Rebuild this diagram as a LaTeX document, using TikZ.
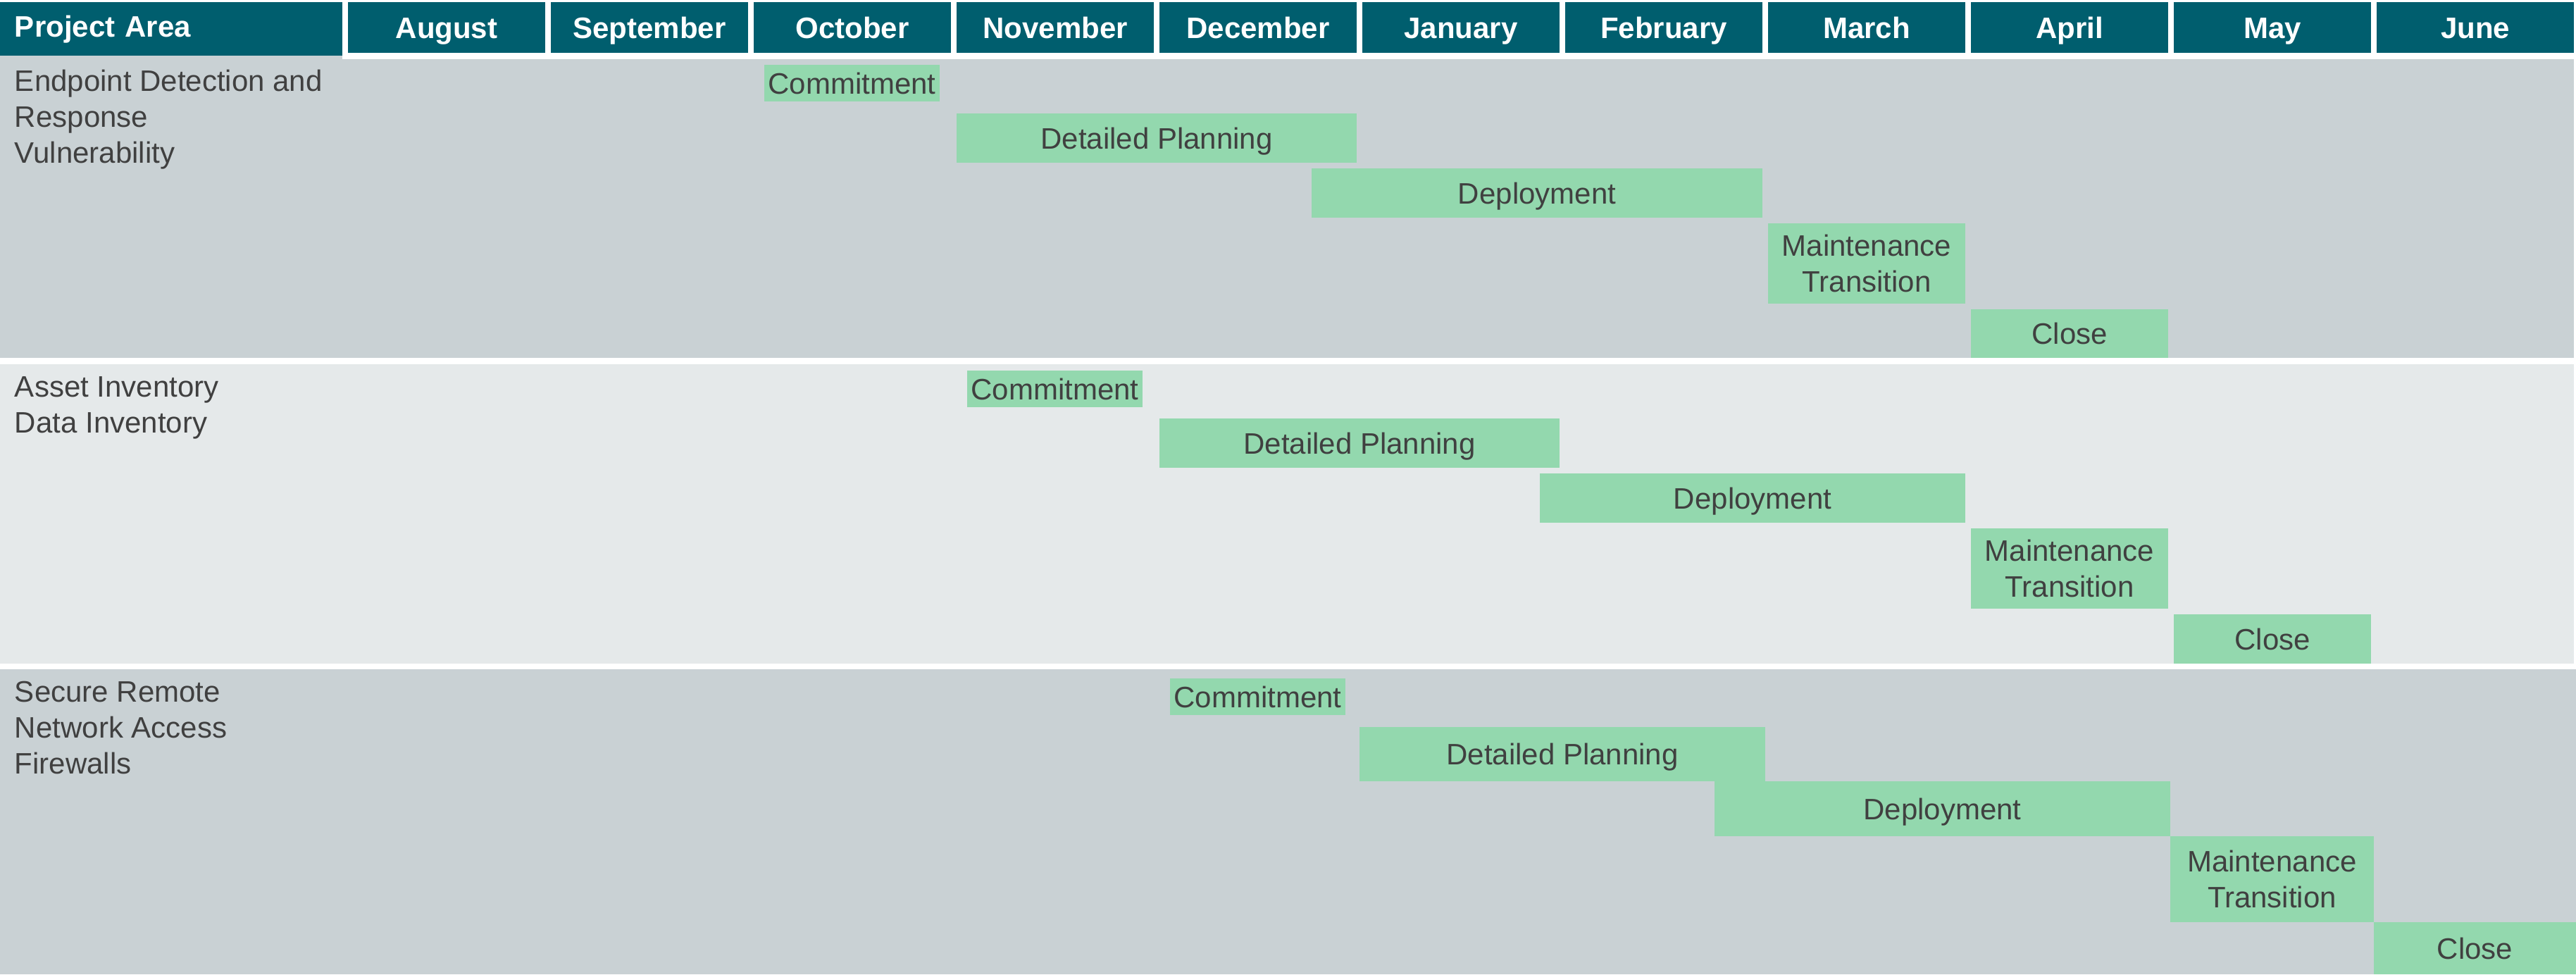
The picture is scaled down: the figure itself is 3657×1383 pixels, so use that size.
\documentclass[tikz,border=0pt]{standalone}
\usepackage{fontspec}
\setmainfont{Liberation Sans}
\definecolor{hdr}{HTML}{005E6E}
\definecolor{bandA}{HTML}{C9D1D4}
\definecolor{bandB}{HTML}{E5E9EA}
\definecolor{barg}{HTML}{93D8AE}
\definecolor{txt}{HTML}{404040}
\newcommand\gbar[6]{\node[gbar, minimum width={(#4-#2)*0.25pt}, minimum height={(#5-#3)*0.25pt}] (#1) at ({(#2+#4)/2},{(#3+#5)/2}) {#6};}
\newcommand\myband[5]{\node[band, fill=#5, minimum width={(#4-#2)*0.25pt}, minimum height={(#3)*0.25pt}] (#1) at ({#4/2},{(#2)}) {};}
\begin{document}
\begin{tikzpicture}[x=0.25pt, y=-0.25pt,
  every node/.style={inner sep=0pt, outer sep=0pt},
  bodyfont/.style={font=\fontsize{10.5pt}{12.75pt}\selectfont, text=txt},
  gbar/.style={bodyfont, fill=barg, align=center, text height=7.5pt, text depth=0pt},
  gbarm/.style={bodyfont, fill=barg, align=center},
  mhead/.style={fill=hdr, text=white, font=\fontsize{10.5pt}{12.75pt}\selectfont\bfseries,
    minimum width=70pt, minimum height=18pt, text height=7.5pt, text depth=0pt},
  arealabel/.style={bodyfont, align=left, anchor=north west},
  bandbox/.style={fill=#1, draw=none}]
\useasboundingbox (0,0) rectangle (3657,1383);
\fill[white] (0,0) rectangle (3657,1383);
% bands
\path[bandbox=bandA] (0,84) rectangle (3654,508);
\path[bandbox=bandA] (0,79) rectangle (486,84);
\path[bandbox=bandB] (0,517) rectangle (3654,942);
\path[bandbox=bandA] (0,950) rectangle (3657,1383);
% header
\node[fill=hdr, text=white, font=\fontsize{10.5pt}{12.75pt}\selectfont\bfseries,
  minimum width=121.5pt, minimum height=19pt, text width=111pt, align=left,
  text height=7.5pt, text depth=2pt] (pa) at (243,41) {Project Area};
\foreach \m [count=\i from 0] in {August,September,October,November,December,January,February,March,April,May,June}
  \node[mhead] (m\i) at ({634+288*\i},39) {\m};
% area labels
\node[arealabel] (a1) at (21,97) {\rule{0pt}{8pt}Endpoint Detection and\\Response\\Vulnerability};
\node[arealabel] (a2) at (21,531) {\rule{0pt}{8pt}Asset Inventory\\Data Inventory};
\node[arealabel] (a3) at (21,964) {\rule{0pt}{8pt}Secure Remote\\Network Access\\Firewalls};
% band 1 bars
\gbar{c1}{1085}{92}{1334}{144}{Commitment}
\gbar{d1}{1358}{161}{1926}{231}{Detailed Planning}
\gbar{p1}{1862}{239}{2502}{309}{Deployment}
\node[gbarm, minimum width=70pt, minimum height=28.5pt] (mt1) at (2650,374) {Maintenance\\Transition};
\gbar{x1}{2798}{439}{3078}{508}{Close}
% band 2 bars
\gbar{c2}{1373}{526}{1622}{578}{Commitment}
\gbar{d2}{1646}{594}{2214}{664}{Detailed Planning}
\gbar{p2}{2186}{672}{2790}{742}{Deployment}
\node[gbarm, minimum width=70pt, minimum height=28.5pt] (mt2) at (2938,807) {Maintenance\\Transition};
\gbar{x2}{3086}{872}{3366}{942}{Close}
% band 3 bars
\gbar{c3}{1661}{963}{1910}{1015}{Commitment}
\gbar{d3}{1930}{1032}{2506}{1109}{Detailed Planning}
\gbar{p3}{2434}{1109}{3081}{1187}{Deployment}
\node[gbarm, minimum width=72.25pt, minimum height=30.5pt] (mt3) at (3225.5,1248) {Maintenance\\Transition};
\gbar{x3}{3370}{1309}{3657}{1383}{Close}
\end{tikzpicture}
\end{document}
